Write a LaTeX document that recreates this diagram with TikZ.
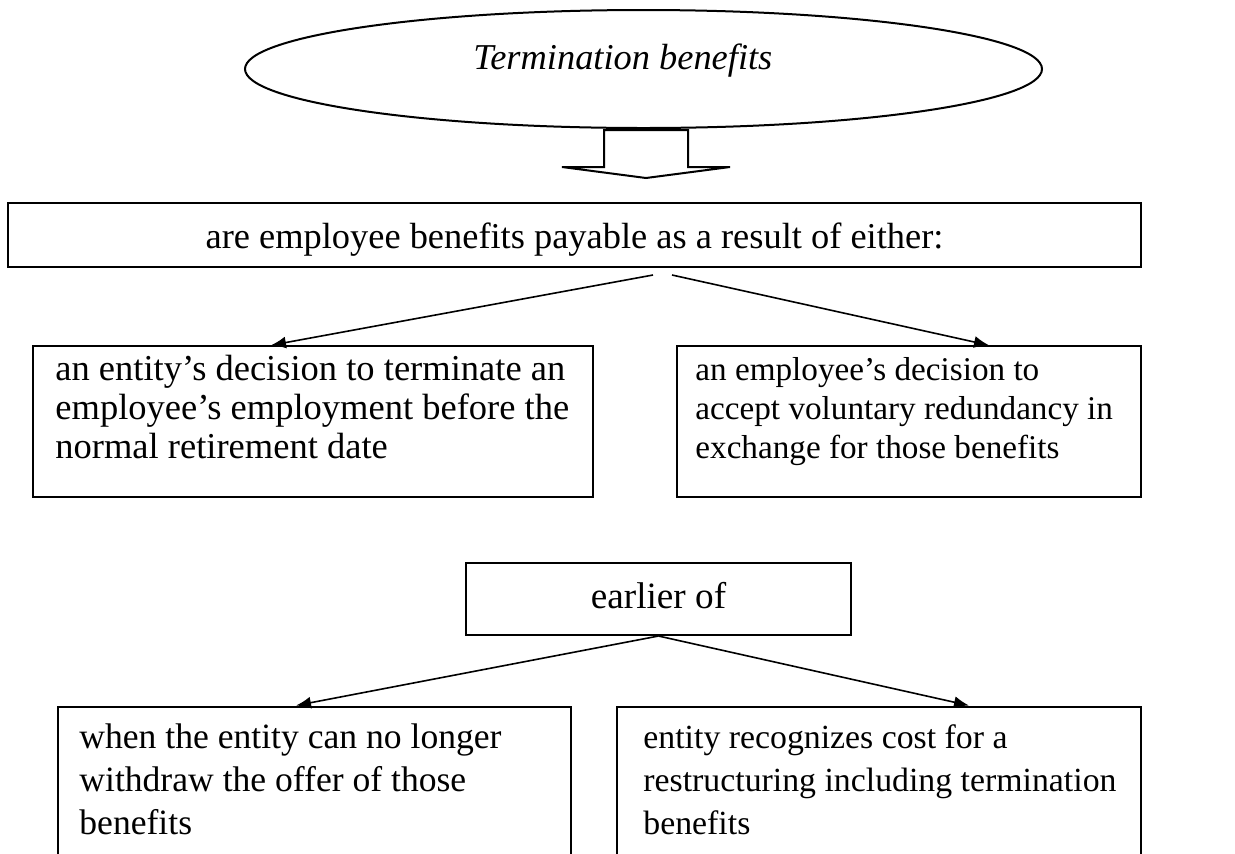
\documentclass[tikz,border=0pt]{standalone}
\usepackage{fontspec}
\setmainfont{Liberation Serif}
\usetikzlibrary{shapes.geometric,arrows.meta}
\begin{document}
\begin{tikzpicture}[x=0.5pt,y=-0.5pt,
  box/.style={draw, rectangle, inner sep=0pt, line width=1pt},
  txt/.style={inner sep=0pt, align=left, font=\fontsize{18.2pt}{21pt}\selectfont},
  conn/.style={-{Latex[length=7.5pt,width=6pt]}, line width=0.8pt}]
\useasboundingbox (0,0) rectangle (1235,853);
\clip (0,0) rectangle (1235,853);
% title ellipse
\node[ellipse, draw, line width=1pt, minimum width=398.5pt, minimum height=59pt, inner sep=0pt] (title) at (643.5,69) {};
\node[txt, anchor=base west, font=\fontsize{18.2pt}{21pt}\selectfont\itshape] (tt) at (473,69) {Termination benefits};
% block arrow
\draw[line width=1pt, line join=miter] (604,130) -- (604,167) -- (562,167) -- (646,178) -- (730,167) -- (688,167) -- (688,130) -- cycle;
% boxes
\node[box, minimum width=566.5pt, minimum height=32pt] (b1) at (574.5,235) {};
\node[txt, anchor=base] (t1) at (574.5,248) {are employee benefits payable as a result of either:};
\node[box, minimum width=280pt, minimum height=75.5pt] (b2) at (313,421.75) {};
\node[txt, anchor=base west, font=\fontsize{18.25pt}{19.5pt}\selectfont] (t2) at (55,458) {an entity’s decision to terminate an\\employee’s employment before the\\normal retirement date};
\node[box, minimum width=232pt, minimum height=75.5pt] (b3) at (909,421.75) {};
\node[txt, anchor=base west, font=\fontsize{16.6pt}{19.5pt}\selectfont] (t3) at (695,458) {an employee’s decision to\\accept voluntary redundancy in\\exchange for those benefits};
\node[box, minimum width=192.5pt, minimum height=36pt] (b4) at (658.5,599) {};
\node[txt, anchor=base, font=\fontsize{18.6pt}{21pt}\selectfont] (t4) at (658.5,608) {earlier of};
\node[box, minimum width=256.5pt, minimum height=96.75pt] (b5) at (314.5,803.25) {};
\node[txt, anchor=base west, font=\fontsize{17.8pt}{21.5pt}\selectfont] (t5) at (79,834) {when the entity can no longer\\withdraw the offer of those\\benefits};
\node[box, minimum width=262pt, minimum height=96.75pt] (b6) at (879,803.25) {};
\node[txt, anchor=base west, font=\fontsize{16.9pt}{21.5pt}\selectfont] (t6) at (643,834) {entity recognizes cost for a\\restructuring including termination\\benefits};
% connectors
\draw[conn] ([xshift=39.25pt,yshift=-3.5pt]b1.south) -- ([xshift=119.5pt]b2.north west);
\draw[conn] ([xshift=48.75pt,yshift=-3.5pt]b1.south) -- ([xshift=156.5pt]b3.north west);
\draw[conn] (b4.south) -- ([xshift=119.5pt]b5.north west);
\draw[conn] (b4.south) -- ([xshift=176.5pt]b6.north west);
\end{tikzpicture}
\end{document}
